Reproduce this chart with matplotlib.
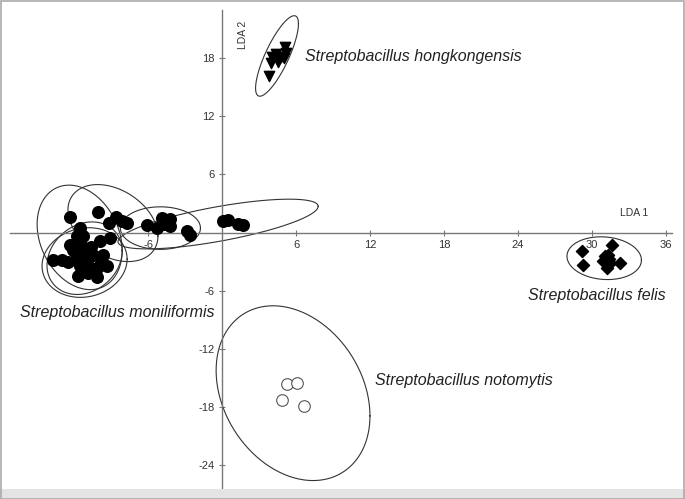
import numpy as np
import matplotlib
matplotlib.use("Agg")
import matplotlib.pyplot as plt
from matplotlib.patches import Rectangle

plt.rcParams['font.family'] = ['Liberation Sans', 'DejaVu Sans']

# LDA scores
moni_x = [-12.33, -10.08, -9.16, -8.60, -8.13, -7.73, -6.11, -5.30, -4.89, -4.22,
          -4.70, -4.22, -2.86, -2.60, 0.11, 0.51, 1.32, 1.73, -11.52, -11.78,
          -11.25, -9.89, -9.08, -12.33, -11.52, -12.06, -11.25, -10.44, -9.63, -11.78,
          -11.11, -13.71, -13.00, -11.78, -10.97, -9.89, -9.35, -11.52, -10.16, -11.25,
          -10.84, -11.65, -10.16, -12.49, -10.60]
moni_y = [1.62, 2.14, 0.96, 1.62, 1.24, 1.00, 0.83, 0.49, 1.52, 1.40,
          0.93, 0.65, 0.13, -0.21, 1.17, 1.27, 0.93, 0.75, 0.49, -0.38,
          -0.38, -0.90, -0.55, -1.24, -1.03, -1.76, -1.93, -2.28, -2.28, -2.45,
          -2.62, -2.79, -2.79, -2.79, -3.13, -3.31, -3.49, -3.49, -3.65, -4.00,
          -4.17, -4.52, -4.58, -3.00, -1.45]

hong_x = [5.1, 4.38, 5.2, 4.05, 4.75, 3.95, 4.5, 5.0, 3.85]
hong_y = [19.2, 18.5, 18.6, 18.1, 18.1, 17.5, 17.6, 18.0, 16.2]

felis_x = [29.17, 31.6, 29.3, 31.06, 31.33, 30.92, 31.47, 32.28, 31.2, 31.39]
felis_y = [-1.93, -1.24, -3.31, -2.45, -2.27, -2.97, -3.13, -3.13, -3.65, -2.69]

noto_x = [5.25, 6.11, 4.89, 6.67]
noto_y = [-15.7, -15.5, -17.3, -17.9]

# confidence ellipses: centre x, centre y, x half-extent, y half-extent, correlation
moni_ell = [(-11.55, -0.5, 3.45, 5.4, -0.25),
            (-8.85, 0.98, 3.65, 3.98, -0.34),
            (-11.15, -3.1, 3.45, 3.6, 0.1),
            (-11.15, -2.65, 3.05, 3.75, 0.2),
            (-5.0, 0.46, 3.25, 2.2, 0.0),
            (-0.32, 0.88, 8.12, 2.57, 0.71)]
hong_ell = [(4.46, 18.25, 1.74, 4.16, 0.8)]
felis_ell = [(31.0, -2.65, 3.02, 2.21, -0.09)]
noto_ell = [(5.76, -16.6, 6.24, 9.03, -0.26)]

xticks = [-6, 6, 12, 18, 24, 30, 36]
yticks = [-24, -18, -12, -6, 6, 12, 18]


def draw_ellipse(ax, cx, cy, rx, ry, rho):
    t = np.linspace(0, 2 * np.pi, 300)
    ex = cx + rx * np.cos(t)
    ey = cy + ry * (rho * np.cos(t) + np.sqrt(1 - rho ** 2) * np.sin(t))
    ax.plot(ex, ey, color='#333333', lw=0.8, zorder=2)


fig = plt.figure(figsize=(6.85, 4.99), dpi=100)
ax = fig.add_axes([10 / 685, 11 / 499, 662 / 685, 478 / 499])
ax.set_xlim(-17.2, 36.5)
ax.set_ylim(-26.4, 23.0)

for e in moni_ell + hong_ell + felis_ell + noto_ell:
    draw_ellipse(ax, *e)

ax.scatter(moni_x, moni_y, s=70, marker='o', color='black', zorder=3)
ax.scatter(hong_x, hong_y, s=55, marker='v', color='black', zorder=3)
ax.scatter(felis_x, felis_y, s=38, marker='D', color='black', zorder=3)
ax.scatter(noto_x, noto_y, s=70, marker='o', facecolor='white',
           edgecolor='#555555', linewidths=0.8, zorder=3)

for side in ['top', 'right']:
    ax.spines[side].set_visible(False)
ax.spines['left'].set_position(('data', 0))
ax.spines['bottom'].set_position(('data', 0))
for side in ['left', 'bottom']:
    ax.spines[side].set_color('#777777')
    ax.spines[side].set_linewidth(1.0)
ax.set_xticks(xticks)
ax.set_yticks(yticks)
ax.set_xticklabels([str(v) for v in xticks])
ax.set_yticklabels([str(v) for v in yticks])
ax.tick_params(colors='#777777', labelcolor='#333333', labelsize=8,
               length=4, width=0.8, direction='inout')

sp = dict(fontsize=11.5, style='italic', color='#222222', va='center')
ax.text(6.73, 18.2, 'Streptobacillus hongkongensis', **sp)
ax.text(-16.4, -8.27, 'Streptobacillus moniliformis', **sp)
ax.text(24.8, -6.5, 'Streptobacillus felis', **sp)
ax.text(12.4, -15.3, 'Streptobacillus notomytis', **sp)
ax.text(32.3, 2.07, 'LDA 1', fontsize=7.5, color='#333333', va='center')
ax.text(1.7, 20.4, 'LDA 2', fontsize=7.5, color='#333333', va='center',
        ha='center', rotation=90)

# grey frame round the picture
fig.patches.append(Rectangle((0, 0), 1, 10 / 499, transform=fig.transFigure,
                             facecolor='#e4e4e4', edgecolor='none', zorder=0))
fig.patches.append(Rectangle((0.001, 0.001), 0.997, 0.997, transform=fig.transFigure,
                             facecolor='none', edgecolor='#aaaaaa', lw=1.2))

fig.savefig('out.png', dpi=100)
